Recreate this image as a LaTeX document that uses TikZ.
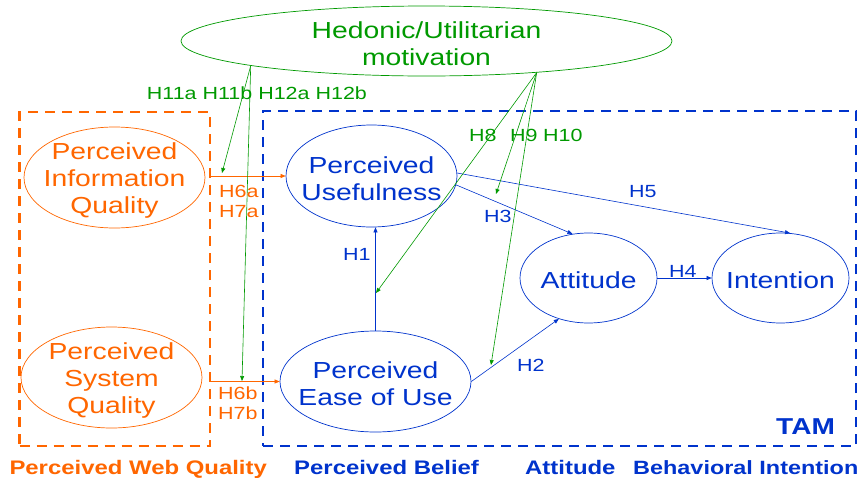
\documentclass[tikz,border=0pt]{standalone}
\usepackage{fontspec}
\setmainfont[FakeStretch=1.22]{Liberation Sans}
\usetikzlibrary{shapes.geometric, arrows.meta}
\definecolor{webOrange}{RGB}{255,102,0}
\definecolor{tamBlue}{RGB}{0,51,204}
\definecolor{motGreen}{RGB}{0,153,0}

\begin{document}
\begin{tikzpicture}[x=1pt, y=-1pt,
    construct/.style={ellipse, draw, line width=0.7pt, inner sep=0pt},
    ctext/.style={font=\fontsize{23.2}{27}\selectfont, align=center, yshift=-2.5pt},
    hyp/.style={font=\fontsize{17.6}{20}\selectfont, anchor=base west, inner sep=0pt},
    group/.style={font=\bfseries\fontsize{19.6}{22}\selectfont, anchor=base west, inner sep=0pt},
    zone/.style={draw, dash pattern=on 10pt off 7pt, line width=2.8pt, inner sep=0pt},
    link/.style={-{Triangle[length=5pt, width=4pt]}, line width=0.6pt}]
  \useasboundingbox (0, 0) rectangle (862, 477);

  \node [zone, webOrange, minimum width=190.5pt, minimum height=334pt] (web) at (114.75, 279) {};
  \node [zone, tamBlue, minimum width=593pt, minimum height=335pt] (tam) at (559.5, 278.5) {};

  \node [construct, motGreen, minimum width=491pt, minimum height=70pt,
    label={[ctext, motGreen]center:Hedonic/Utilitarian\\motivation}] (hm) at (426.5, 41) {};

  \node [construct, webOrange, minimum width=181pt, minimum height=101pt,
    label={[ctext, webOrange]center:Perceived\\Information\\Quality}] (piq) at (114.5, 177.5) {};
  \node [construct, webOrange, minimum width=181pt, minimum height=101pt,
    label={[ctext, webOrange]center:Perceived\\System\\Quality}] (psq) at (111.5, 377.5) {};

  \node [construct, tamBlue, minimum width=171pt, minimum height=102pt,
    label={[ctext, tamBlue]center:Perceived\\Usefulness}] (pu) at (371.5, 176) {};
  \node [construct, tamBlue, minimum width=191pt, minimum height=101pt,
    label={[ctext, tamBlue]center:Perceived\\Ease of Use}] (peou) at (375.5, 381.5) {};
  \node [construct, tamBlue, minimum width=137pt, minimum height=90pt,
    label={[ctext, tamBlue]center:Attitude}] (att) at (588.5, 278) {};
  \node [construct, tamBlue, minimum width=137pt, minimum height=90pt,
    label={[ctext, tamBlue]center:Intention}] (intent) at (780.5, 278) {};

  \draw [link, webOrange] (web.east |- pu.west) -- (pu.west);
  \draw [link, webOrange] (web.east |- peou.west) -- (peou.west);

  \draw [link, tamBlue] (peou.north) -- (peou.north |- pu.south);
  \draw [link, tamBlue] (pu.-6) -- (att.110);
  \draw [link, tamBlue] (pu.2) -- (intent.78);
  \draw [link, tamBlue] (peou.east) -- (att.234);
  \draw [link, tamBlue] (att.east) -- (intent.west);

  \coordinate (m2iq) at (222, 173);
  \coordinate (m2sq) at (242, 381);
  \coordinate (m2h1) at (376, 293);
  \coordinate (m2h3) at (496, 194);
  \coordinate (m2h2) at (491, 365);
  \draw [link, motGreen] (hm.188) -- (m2iq);
  \draw [link, motGreen] (hm.188) -- (m2sq);
  \foreach \t in {m2h1, m2h3, m2h2}
    \draw [link, motGreen] (hm.-16) -- (\t);

  \node [hyp, motGreen] (h11) at (146.7, 99) {H11a H11b H12a H12b};
  \node [hyp, motGreen] (h8) at (469, 141) {H8};
  \node [hyp, motGreen] (h9) at (510, 141) {H9};
  \node [hyp, motGreen] (h10) at (543, 141) {H10};

  \node [hyp, webOrange] (h6a) at (219, 197) {H6a};
  \node [hyp, webOrange] (h7a) at (219, 217) {H7a};
  \node [hyp, webOrange] (h6b) at (218, 399) {H6b};
  \node [hyp, webOrange] (h7b) at (218, 419) {H7b};

  \node [hyp, tamBlue] (h1) at (343, 260) {H1};
  \node [hyp, tamBlue] (h2) at (517, 371) {H2};
  \node [hyp, tamBlue] (h3) at (484, 222) {H3};
  \node [hyp, tamBlue] (h4) at (669, 277) {H4};
  \node [hyp, tamBlue] (h5) at (629, 197) {H5};

  \node [group, webOrange] (gweb) at (9.3, 474) {Perceived Web Quality};
  \node [group, tamBlue] (gbel) at (294, 474) {Perceived Belief};
  \node [group, tamBlue] (gatt) at (525, 474) {Attitude};
  \node [group, tamBlue, font=\bfseries\fontsize{19.2}{22}\selectfont] (gint) at (633, 474) {Behavioral Intention};
  \node [group, tamBlue, font=\bfseries\fontsize{23}{26}\selectfont] (gtam) at (776, 434) {TAM};
\end{tikzpicture}
\end{document}
